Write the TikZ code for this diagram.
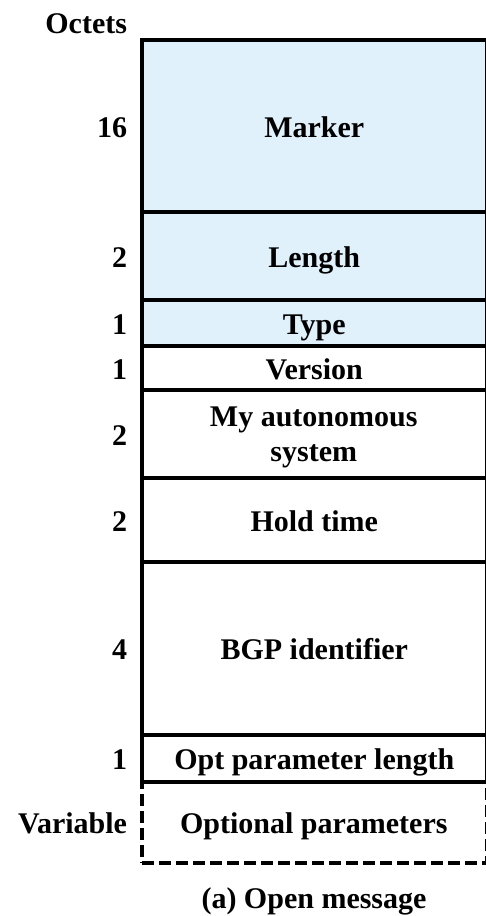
\documentclass[tikz,border=0pt]{standalone}
\usepackage{fontspec}
\setmainfont{Liberation Serif}
\begin{document}
\begin{tikzpicture}[x=1pt,y=-1pt,
  font=\fontsize{30}{35}\selectfont\bfseries,
  every node/.style={inner sep=0pt,outer sep=0pt,text height=22pt,text depth=0pt},
  field/.style={draw=black,line width=3.2pt,minimum width=344.5pt,anchor=north west,align=center},
  hdr/.style={fill=hdrblue},
  octs/.style={anchor=east}]
\definecolor{hdrblue}{RGB}{224,241,251}
\useasboundingbox (0,0) rectangle (486,916);
% optional trailing field, dashed outline
\node[field,dashed,dash pattern=on 12pt off 5pt,minimum height=81pt] (optp) at (142,782) {};
\node at (313.75,822.5) (optptxt) {Optional parameters};
% fixed fields of the OPEN message
\node[field,hdr,minimum height=172pt] (marker) at (142,40) {};
\node[field,hdr,minimum height=88pt] (length) at (142,212) {};
\node[field,hdr,minimum height=46pt] (type) at (142,300) {};
\node[field,minimum height=44pt] (version) at (142,346) {};
\node[field,minimum height=88pt] (myas) at (142,390) {};
\node[field,minimum height=84pt] (hold) at (142,478) {};
\node[field,minimum height=173pt] (bgpid) at (142,562) {};
\node[field,minimum height=47pt] (optlen) at (142,735) {};
% field names
\node (markertxt) at (marker.center) {Marker};
\node (lengthtxt) at (length.center) {Length};
\node (typetxt) at (type.center) {Type};
\node (versiontxt) at (version.center) {Version};
\node[align=center,text height=,text depth=] (myastxt) at (313.75,437) {My autonomous\\system};
\node (holdtxt) at (hold.center) {Hold time};
\node (bgpidtxt) at (bgpid.center) {BGP identifier};
\node (optlentxt) at (optlen.center) {Opt parameter length};
% octet counts
\node[octs] (octhdr) at (127,22) {Octets};
\node[octs] (o1) at (127,126) {16};
\node[octs] (o2) at (127,256) {2};
\node[octs] (o3) at (127,323) {1};
\node[octs] (o4) at (127,368) {1};
\node[octs] (o5) at (127,434) {2};
\node[octs] (o6) at (127,520) {2};
\node[octs] (o7) at (127,648.5) {4};
\node[octs] (o8) at (127,758.5) {1};
\node[octs] (o9) at (127,822.5) {Variable};
% caption
\node (caption) at (314,897) {(a) Open message};
\end{tikzpicture}
\end{document}
